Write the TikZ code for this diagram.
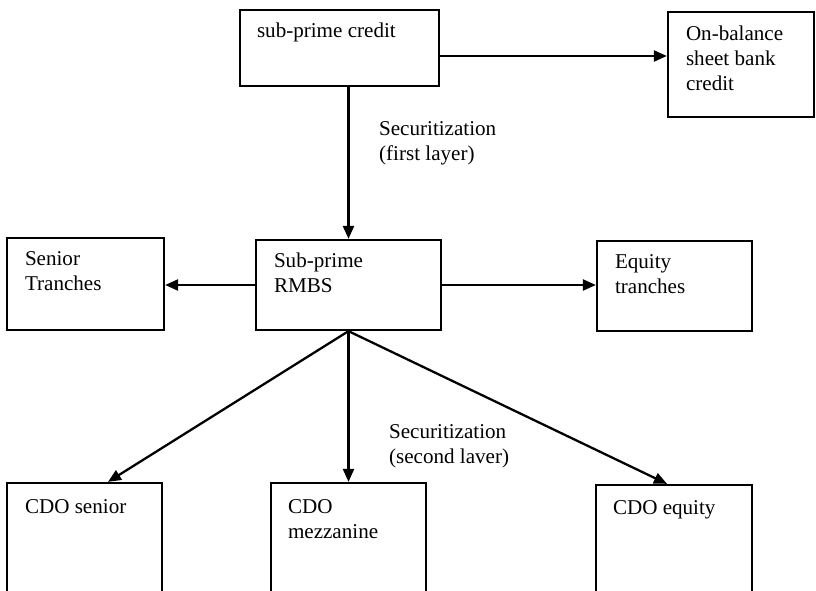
\documentclass[tikz,border=0pt]{standalone}
\usepackage{fontspec}
\setmainfont{Liberation Serif}
\usetikzlibrary{positioning, arrows.meta}

\begin{document}
\begin{tikzpicture}[x=0.02cm, y=-0.02cm, line width=1.3pt,
        box/.style={draw, rectangle, inner sep=0pt},
        txt/.style={inner sep=0pt, align=left, anchor=north west, font=\fontsize{12}{14.2}\selectfont},
        arr/.style={-{Triangle[length=0.26cm, width=0.22cm]}}]
        \useasboundingbox (0,0) rectangle (816,591);
        \clip (0,0) rectangle (816,591);
        \node[box, minimum width=3.98cm, minimum height=1.52cm] (credit) at (339.5,48) {};
        \node[box, minimum width=2.92cm, minimum height=2.1cm] (onbal) at (741,64.5) {};
        \node[box, minimum width=3.14cm, minimum height=1.84cm] (senior) at (85.5,284) {};
        \node[box, minimum width=3.7cm, minimum height=1.8cm] (rmbs) at (348.5,285) {};
        \node[box, minimum width=3.1cm, minimum height=1.8cm] (equity) at (674.5,286) {};
        \node[box, minimum width=3.1cm, minimum height=3.14cm] (cdos) at (84.5,561.5) {};
        \node[box, minimum width=3.1cm, minimum height=3.14cm] (cdom) at (348.5,561.5) {};
        \node[box, minimum width=3.12cm, minimum height=3.1cm] (cdoe) at (674,562.5) {};
        %---------------------------
        \node[txt, below right=0.25cm and 0.34cm of credit.north west] (creditT) {sub-prime credit};
        \node[txt, below right=0.28cm and 0.36cm of onbal.north west] (onbalT) {On-balance\\sheet bank\\credit};
        \node[txt, below right=0.28cm and 0.36cm of senior.north west] (seniorT) {Senior\\Tranches};
        \node[txt, below right=0.25cm and 0.36cm of rmbs.north west] (rmbsT) {Sub-prime\\RMBS};
        \node[txt, below right=0.28cm and 0.36cm of equity.north west] (equityT) {Equity\\tranches};
        \node[txt, below right=0.33cm and 0.36cm of cdos.north west] (cdosT) {CDO senior};
        \node[txt, below right=0.33cm and 0.34cm of cdom.north west] (cdomT) {CDO\\mezzanine};
        \node[txt, below right=0.32cm and 0.34cm of cdoe.north west] (cdoeT) {CDO equity};
        \node[txt] (sec1) at (378,120) {Securitization\\(first layer)};
        \node[txt] (sec2) at (388,423) {Securitization\\(second laver)};
        %--------------------------
        \draw[arr] ([yshift=-0.16cm]credit.east) -- ([yshift=-0.16cm]credit.east -| onbal.west);
        \draw[arr] (rmbs.north |- credit.south) -- (rmbs.north);
        \draw[arr] (rmbs.west) -- (rmbs.west -| senior.east);
        \draw[arr] (rmbs.east) -- (rmbs.east -| equity.west);
        \draw[arr] (rmbs.south) -- ([xshift=0.47cm]cdos.north);
        \draw[arr] (rmbs.south) -- (cdom.north);
        \draw[arr] (rmbs.south) -- ([xshift=-0.14cm]cdoe.north);
\end{tikzpicture}
\end{document}
